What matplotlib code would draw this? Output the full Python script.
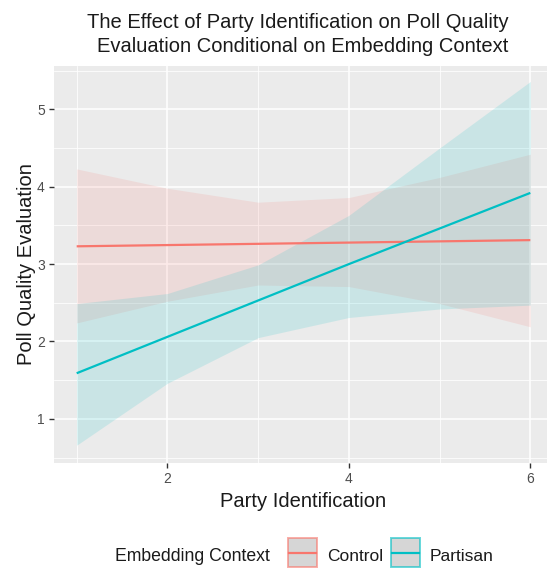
import matplotlib
matplotlib.use("Agg")
import matplotlib.pyplot as plt
from matplotlib.patches import Rectangle
from matplotlib.lines import Line2D

# ---- data ----
party_id = [1, 2, 3, 4, 5, 6]
control_fit = [3.23, 3.246, 3.262, 3.278, 3.294, 3.31]
control_lower = [2.24, 2.52, 2.73, 2.71, 2.49, 2.19]
control_upper = [4.23, 3.98, 3.80, 3.86, 4.12, 4.42]
partisan_fit = [1.59, 2.06, 2.53, 3.00, 3.46, 3.92]
partisan_lower = [0.66, 1.46, 2.05, 2.31, 2.42, 2.47]
partisan_upper = [2.49, 2.62, 2.99, 3.63, 4.50, 5.36]
groups = ["Control", "Partisan"]
x_ticks = [2, 4, 6]
y_ticks = [1, 2, 3, 4, 5]
title_lines = ["The Effect of Party Identification on Poll Quality",
               "Evaluation Conditional on Embedding Context"]
x_label = "Party Identification"
y_label = "Poll Quality Evaluation"
legend_title = "Embedding Context"

colors = {"Control": "#F8766D", "Partisan": "#00BFC4"}
series = {
    "Control": (control_fit, control_lower, control_upper),
    "Partisan": (partisan_fit, partisan_lower, partisan_upper),
}

plt.rcParams["font.family"] = ["Liberation Sans", "DejaVu Sans"]

W, H = 547, 568
fig = plt.figure(figsize=(W / 100, H / 100), dpi=100)
fig.patch.set_facecolor("white")


def fx(px):
    return px / W


def fy(py):
    return 1 - py / H


# panel in pixel coords
pl, pr, pt, pb = 54, 553, 65.6, 463
ax = fig.add_axes([fx(pl), fy(pb), (pr - pl) / W, (pb - pt) / H])
ax.set_facecolor("#EBEBEB")
for s in ax.spines.values():
    s.set_visible(False)

ax.set_xlim(0.75, 6.25)
ax.set_ylim(0.43, 5.565)
ax.set_xticks(x_ticks)
ax.set_yticks(y_ticks)
ax.set_xticks([1, 3, 5], minor=True)
ax.set_yticks([0.5, 1.5, 2.5, 3.5, 4.5, 5.5], minor=True)
ax.grid(which="major", color="white", linewidth=1.1)
ax.grid(which="minor", color="white", linewidth=0.55)
ax.set_axisbelow(True)
ax.tick_params(which="major", length=3.5, width=1.0, color="#333333",
               labelcolor="#4D4D4D", labelsize=10, pad=3.2)
ax.tick_params(which="minor", length=0)

for g in groups:
    fit, lo, hi = series[g]
    ax.fill_between(party_id, lo, hi, color=colors[g], alpha=0.14, linewidth=0)
for g in groups:
    fit, lo, hi = series[g]
    ax.plot(party_id, fit, color=colors[g], linewidth=1.6, solid_capstyle="butt")

# titles
fig.text(fx(297.5), fy(28), title_lines[0], ha="center", va="baseline",
         fontsize=14.5, color="#1A1A1A")
fig.text(fx(303), fy(52.3), title_lines[1], ha="center", va="baseline",
         fontsize=14.5, color="#1A1A1A")
fig.text(fx(303), fy(507), x_label, ha="center", va="baseline",
         fontsize=14.5, color="#1A1A1A")
fig.text(fx(27), fy(264), y_label, ha="center", va="center", rotation=90,
         fontsize=14.5, color="#1A1A1A")

# legend (manual)
fig.text(fx(115), fy(561), legend_title, ha="left", va="baseline",
         fontsize=12.7, color="#1A1A1A")
key_x = {"Control": 288, "Partisan": 391}
lab_x = {"Control": 327, "Partisan": 430}
kw, kh, ktop = 29, 29, 538
for g in groups:
    x0 = key_x[g]
    rect = Rectangle((fx(x0), fy(ktop + kh)), kw / W, kh / H,
                     transform=fig.transFigure, facecolor="#D6D6D6",
                     edgecolor=colors[g], linewidth=1.4)
    rect.set_edgecolor((*matplotlib.colors.to_rgb(colors[g]), 0.6))
    fig.add_artist(rect)
    fig.add_artist(Line2D([fx(x0 + 1), fx(x0 + kw - 1)],
                          [fy(ktop + kh / 2), fy(ktop + kh / 2)],
                          transform=fig.transFigure, color=colors[g],
                          linewidth=1.6))
    fig.text(fx(lab_x[g]), fy(561), g, ha="left", va="baseline",
             fontsize=12.5, color="#1A1A1A")

fig.savefig("out.png", dpi=100)
